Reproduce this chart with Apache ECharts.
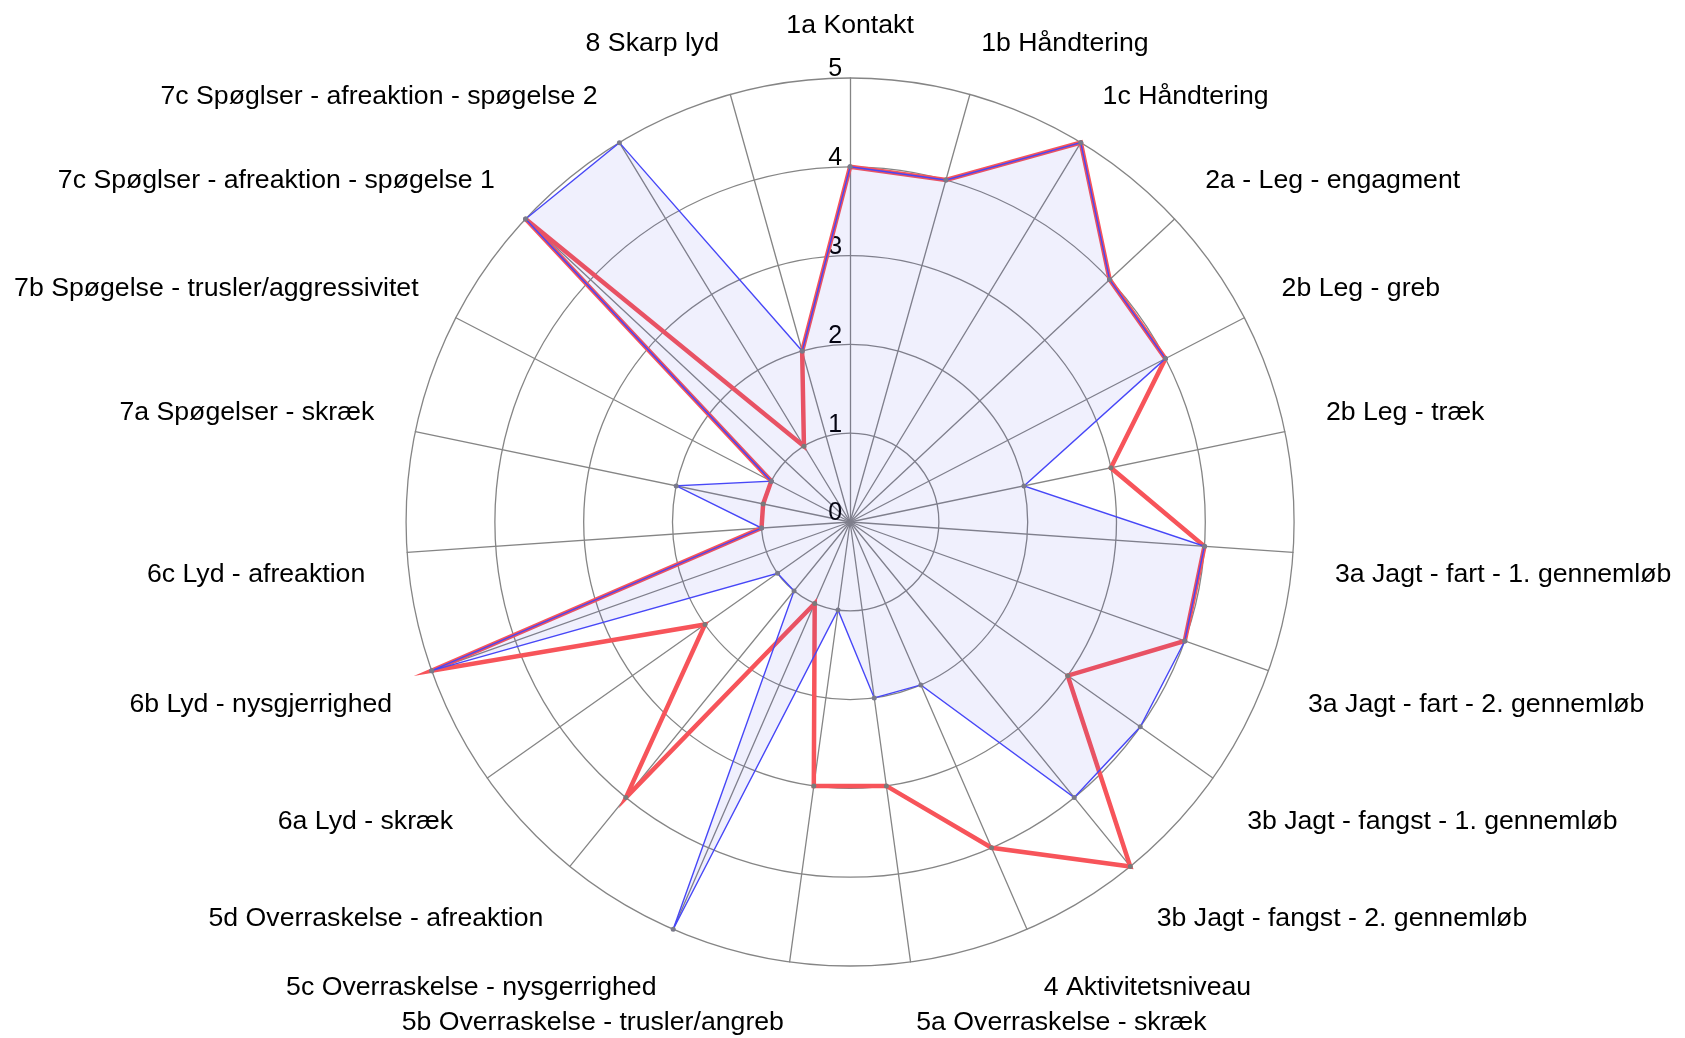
<!DOCTYPE html>
<html>
<head>
<meta charset="utf-8">
<style>
  html, body { margin: 0; padding: 0; background: #ffffff; }
  #chart { width: 1685px; height: 1038px; }
</style>
<script src="https://cdn.jsdelivr.net/npm/echarts@6/dist/echarts.min.js"></script>
</head>
<body>
<div id="chart"></div>
<script>
// Categories in clockwise order, starting at the top
const categories = [
  '1a Kontakt',
  '1b Håndtering',
  '1c Håndtering',
  '2a - Leg - engagment',
  '2b Leg - greb',
  '2b Leg - træk',
  '3a Jagt - fart - 1. gennemløb',
  '3a Jagt - fart - 2. gennemløb',
  '3b Jagt - fangst - 1. gennemløb',
  '3b Jagt - fangst - 2. gennemløb',
  '4 Aktivitetsniveau',
  '5a Overraskelse - skræk',
  '5b Overraskelse - trusler/angreb',
  '5c Overraskelse - nysgerrighed',
  '5d Overraskelse - afreaktion',
  '6a Lyd - skræk',
  '6b Lyd - nysgjerrighed',
  '6c Lyd - afreaktion',
  '7a Spøgelser - skræk',
  '7b Spøgelse - trusler/aggressivitet',
  '7c Spøglser - afreaktion - spøgelse 1',
  '7c Spøglser - afreaktion - spøgelse 2',
  '8 Skarp lyd'
];

// Blue (filled) series
const blueValues = [4, 4, 5, 4, 4, 2, 4, 4, 4, 4, 2, 2, 1, 5, 1, 1, 5, 1, 2, 1, 5, 5, 2];
// Red (thick line) series
const redValues  = [4, 4, 5, 4, 4, 3, 4, 4, 3, 5, 4, 3, 3, 1, 4, 2, 5, 1, 1, 1, 5, 1, 2];

// Radial tick labels
const tickLabels = ['0', '1', '2', '3', '4', '5'];
const axisMax = 5;

// ECharts radar runs counter-clockwise; reorder so the chart reads clockwise
const n = categories.length;
const order = [0];
for (let k = n - 1; k >= 1; k--) order.push(k);

const FONT = '"Liberation Sans", Arial, sans-serif';
const FS = 26.67;
const TICK_FS = 25;

const indicators = order.map(function (i) {
  const theta = i * 2 * Math.PI / n;
  const upper = Math.cos(theta) > 0;
  const ind = {
    name: categories[i],
    min: 0,
    max: axisMax,
    nameTextStyle: upper
      ? { verticalAlign: 'bottom', lineHeight: 20 }
      : { verticalAlign: 'top', padding: [6, 0, 0, 0] }
  };
  if (i === 0) {
    ind.axisLabel = {
      show: true,
      color: '#000',
      fontSize: TICK_FS,
      fontFamily: FONT,
      margin: 8,
      align: 'right',
      verticalAlign: 'bottom',
      lineHeight: 17,
      formatter: function (v) {
        const idx = Math.round(v);
        return tickLabels[idx] !== undefined ? tickLabels[idx] : '';
      }
    };
  }
  return ind;
});

const chart = echarts.init(document.getElementById('chart'), null, { renderer: 'canvas' });

chart.setOption({
  backgroundColor: '#ffffff',
  animation: false,
  radar: {
    center: ['50.45%', '50.29%'],
    radius: 444,
    startAngle: 90,
    shape: 'circle',
    splitNumber: 5,
    indicator: indicators,
    nameGap: 42,
    axisName: {
      color: '#000',
      fontSize: FS,
      fontFamily: FONT
    },
    axisLine: { lineStyle: { color: '#858585', width: 1.3 } },
    splitLine: { lineStyle: { color: '#858585', width: 1.3 } },
    splitArea: { show: false },
    axisTick: { show: false },
    axisLabel: { show: false }
  },
  series: [
    {
      type: 'radar',
      silent: true,
      symbol: 'circle',
      symbolSize: 5,
      emphasis: { disabled: true },
      data: [
        {
          value: order.map(function (i) { return redValues[i]; }),
          itemStyle: { color: '#7a7a7a' },
          lineStyle: { color: '#f7545a', width: 4.5, join: 'miter', miterLimit: 10 },
          areaStyle: { opacity: 0 }
        },
        {
          value: order.map(function (i) { return blueValues[i]; }),
          itemStyle: { color: '#7a7a8a' },
          lineStyle: { color: '#4848f8', width: 1.4, join: 'miter', miterLimit: 10 },
          areaStyle: { color: 'rgba(70, 70, 235, 0.115)' }
        }
      ]
    }
  ]
});
</script>
</body>
</html>
